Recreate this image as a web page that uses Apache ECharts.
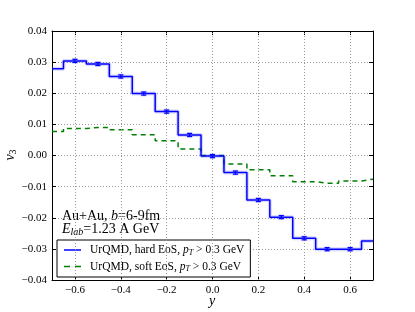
<!DOCTYPE html>
<html><head><meta charset="utf-8">
<script src="https://cdn.jsdelivr.net/npm/echarts@6/dist/echarts.min.js"></script>
<style>html,body{margin:0;padding:0;background:#fff}#c{width:415px;height:312px}</style>
</head><body><div id="c"></div><script>
// rapidity bin centers
const yCenters = [-0.7,-0.6,-0.5,-0.4,-0.3,-0.2,-0.1,0.0,0.1,0.2,0.3,0.4,0.5,0.6,0.7];
// v3, UrQMD hard EoS
const hardV3 = [0.0279,0.0304,0.0294,0.0254,0.0199,0.0141,0.0066,-0.0002,-0.0055,-0.0143,-0.0198,-0.0266,-0.0301,-0.0301,-0.0275];
// v3, UrQMD soft EoS
const softV3 = [0.0077,0.0087,0.0090,0.0083,0.0067,0.0047,0.0021,0.0000,-0.0027,-0.0046,-0.0065,-0.0084,-0.0089,-0.0082,-0.0076];
// statistical errors of hard EoS (shown at -0.6..0.6)
const errX = [-0.6,-0.5,-0.4,-0.3,-0.2,-0.1,0.0,0.1,0.2,0.3,0.4,0.5,0.6];
const errV = [0.0304,0.0294,0.0254,0.0199,0.0141,0.0066,-0.0002,-0.0055,-0.0143,-0.0198,-0.0266,-0.0301,-0.0301];
const errS = [0.0005,0.0005,0.0005,0.0005,0.0005,0.0005,0.0005,0.0005,0.0005,0.0005,0.0005,0.0005,0.0005];
const xTicks = [-0.6,-0.4,-0.2,0.0,0.2,0.4,0.6];
const legendNames = ['UrQMD, hard EoS, pT > 0.3 GeV','UrQMD, soft EoS, pT > 0.3 GeV'];

const SERIF = "'Liberation Serif','DejaVu Serif',serif";
const fmtMinus = (v, d) => Math.abs(v) < 1e-9 ? (0).toFixed(d) : (v < 0 ? '\u2212' : '') + Math.abs(v).toFixed(d);

const hardData = yCenters.map((x, i) => [x, hardV3[i]]);
const softData = yCenters.map((x, i) => [x, softV3[i]]);
const errData = errX.map((x, i) => [x, errV[i] - errS[i], errV[i] + errS[i], errV[i]]);

const tickCommon = {show: true, inside: true, length: 4, lineStyle: {color: '#000', width: 1}};
const gridLine = {show: true, lineStyle: {color: '#9a9a9a', type: [1, 2], width: 1}};

const chart = echarts.init(document.getElementById('c'), null, {renderer: 'canvas'});
chart.setOption({
  animation: false,
  backgroundColor: '#fff',
  grid: {left: 52, right: 42, top: 31, bottom: 32, containLabel: false},
  xAxis: [{
    type: 'value', min: -0.7, max: 0.7, position: 'bottom',
    axisLine: {show: true, onZero: false, lineStyle: {color: '#000', width: 1}},
    axisTick: Object.assign({customValues: xTicks}, tickCommon),
    axisLabel: {customValues: xTicks, formatter: v => fmtMinus(v, 1), color: '#000', fontFamily: SERIF, fontSize: 11, margin: 5},
    splitLine: {show: false}
  }, {
    type: 'value', min: -0.7, max: 0.7, position: 'top',
    axisLine: {show: true, onZero: false, lineStyle: {color: '#000', width: 1}},
    axisTick: Object.assign({customValues: xTicks}, tickCommon),
    axisLabel: {show: false}, splitLine: {show: false}
  }],
  yAxis: [{
    type: 'value', min: -0.04, max: 0.04, interval: 0.01, position: 'left',
    axisLine: {show: true, onZero: false, lineStyle: {color: '#000', width: 1}},
    axisTick: tickCommon,
    axisLabel: {formatter: v => fmtMinus(v, 2), color: '#000', fontFamily: SERIF, fontSize: 11, margin: 5},
    splitLine: gridLine
  }, {
    type: 'value', min: -0.04, max: 0.04, interval: 0.01, position: 'right',
    axisLine: {show: true, onZero: false, lineStyle: {color: '#000', width: 1}},
    axisTick: tickCommon,
    axisLabel: {show: false}, splitLine: {show: false}
  }],
  legend: {
    data: [
      {name: legendNames[0], icon: 'path://M0,0H17V1.5H0Z'},
      {name: legendNames[1], icon: 'path://M0,0H6V1.5H0ZM11,0H17V1.5H11Z'}
    ],
    symbolKeepAspect: false,
    left: 57, top: 240, orient: 'vertical',
    itemWidth: 17, itemHeight: 1.5, itemGap: 4,
    padding: [4, 6, 4, 7],
    borderColor: '#000', borderWidth: 1, borderRadius: 0, backgroundColor: '#fff',
    formatter: n => n === legendNames[0]
      ? '{n|UrQMD, hard EoS, }{i|p}{s|T}{n| > 0.3 GeV}'
      : '{n|UrQMD, soft EoS, }{i|p}{s|T}{n| > 0.3 GeV}',
    textStyle: {
      color: '#000', fontFamily: SERIF, fontSize: 11.5, padding: [0, 0, 0, 4],
      rich: {
        n: {fontFamily: SERIF, fontSize: 11.5, color: '#000'},
        i: {fontFamily: SERIF, fontSize: 11.5, fontStyle: 'italic', color: '#000'},
        s: {fontFamily: SERIF, fontSize: 8, fontStyle: 'italic', color: '#000', padding: [5, 0, 0, 0]}
      }
    }
  },
  series: [
    {
      // vertical dotted grid lines at x ticks
      type: 'line', data: [], silent: true, xAxisIndex: 0, yAxisIndex: 0,
      markLine: {symbol: 'none', silent: true, label: {show: false},
        lineStyle: {color: '#9a9a9a', type: [1, 2], width: 1},
        data: xTicks.map(v => ({xAxis: v}))}
    },
    {
      type: 'line', name: 'halo', data: hardData, step: 'middle', symbol: 'none', silent: true,
      lineStyle: {color: 'rgba(80,80,255,0.22)', width: 4}, z: 2
    },
    {
      type: 'line', name: legendNames[1], data: softData, step: 'middle', symbol: 'none',
      lineStyle: {color: '#008000', width: 1.5, type: [5, 4]}, itemStyle: {color: '#008000'}, z: 3
    },
    {
      type: 'line', name: legendNames[0], data: hardData, step: 'middle', symbol: 'none',
      lineStyle: {color: '#0000ff', width: 1.5}, itemStyle: {color: '#0000ff'}, z: 4
    },
    {
      type: 'custom', name: 'err', data: errData, z: 5, silent: true,
      renderItem: (params, api) => {
        const x = api.value(0);
        const p1 = api.coord([x, api.value(1)]);
        const p2 = api.coord([x, api.value(2)]);
        const pc = api.coord([x, api.value(3)]);
        const w = 2.5;
        const st = {stroke: '#0000ff', lineWidth: 1.2};
        return {type: 'group', children: [
          {type: 'rect', shape: {x: pc[0] - 3, y: pc[1] - 3, width: 6, height: 6}, style: {fill: 'rgba(80,80,255,0.2)'}},
          {type: 'line', shape: {x1: p1[0], y1: p1[1], x2: p2[0], y2: p2[1]}, style: st},
          {type: 'line', shape: {x1: p1[0] - w, y1: p1[1], x2: p1[0] + w, y2: p1[1]}, style: st},
          {type: 'line', shape: {x1: p2[0] - w, y1: p2[1], x2: p2[0] + w, y2: p2[1]}, style: st}
        ]};
      }
    }
  ],
  graphic: [
    {type: 'text', left: 62, top: 209, style: {
      text: '{n|Au+Au, }{i|b}{n|=6-9fm}',
      rich: {n: {fontFamily: SERIF, fontSize: 14, fill: '#000'}, i: {fontFamily: SERIF, fontSize: 14, fontStyle: 'italic', fill: '#000'}}
    }},
    {type: 'text', left: 62, top: 222, style: {
      text: '{i|E}{s|lab}{n|=1.23 A GeV}',
      rich: {n: {fontFamily: SERIF, fontSize: 14, fill: '#000'}, i: {fontFamily: SERIF, fontSize: 14, fontStyle: 'italic', fill: '#000'},
        s: {fontFamily: SERIF, fontSize: 10, fontStyle: 'italic', fill: '#000', padding: [6, 0, 0, 0]}}
    }},
    {type: 'text', x: 212, y: 301, style: {
      text: 'y', fontFamily: SERIF, fontSize: 14, fontStyle: 'italic', fill: '#000', align: 'center', verticalAlign: 'middle'
    }},
    {type: 'text', x: 10, y: 155, rotation: Math.PI / 2, style: {
      text: '{i|v}{s|3}', align: 'center', verticalAlign: 'middle',
      rich: {i: {fontFamily: SERIF, fontSize: 14, fontStyle: 'italic', fill: '#000'}, s: {fontFamily: SERIF, fontSize: 10, fill: '#000', padding: [6, 0, 0, 0]}}
    }}
  ]
});
</script></body></html>
